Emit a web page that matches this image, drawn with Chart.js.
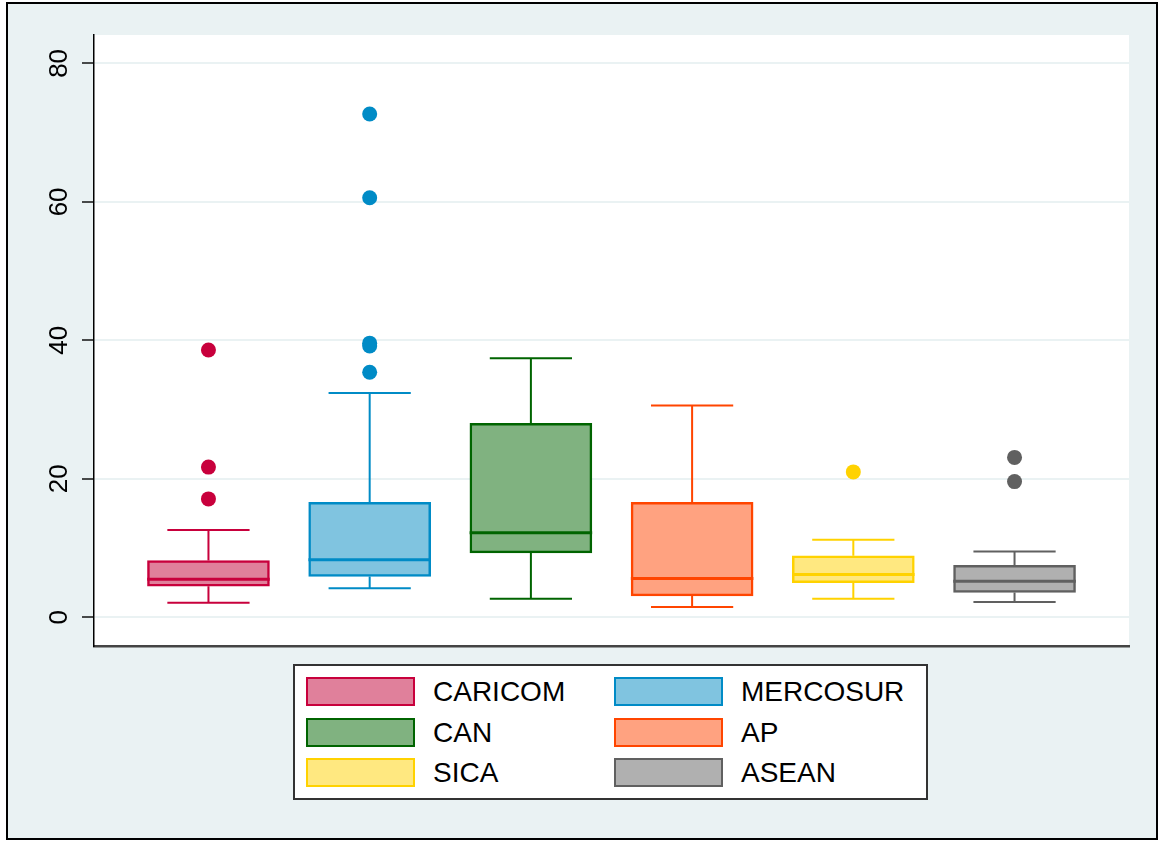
<!DOCTYPE html>
<html lang="en">
<head>
<meta charset="UTF-8">
<title>Box plot by group</title>
<script src="https://cdn.jsdelivr.net/npm/chart.js"></script>
<style>
  html, body { margin: 0; padding: 0; background: #fff; }
  #frame { position: absolute; left: 6px; top: 2px; width: 1152px; height: 838px;
           box-sizing: border-box; border: 2px solid #000; background: #eaf2f3; }
  #chart { position: absolute; left: 0; top: 0; }
  #legend { position: absolute; left: 293px; top: 664px; width: 635px; height: 136px;
            box-sizing: border-box; border: 2px solid #333; background: #fff; }
  .item { position: absolute; height: 29px; display: flex; align-items: center;
          font-family: "Liberation Sans", Arial, sans-serif; font-size: 28px; color: #000; white-space: nowrap; }
  .swatch { width: 109px; height: 29px; box-sizing: border-box; border: 2px solid; margin-right: 18px; }
</style>
</head>
<body>
<div id="frame"></div>
<canvas id="chart" width="1161" height="841"></canvas>
<div id="legend"></div>

<script>
    // groups and box statistics
    const groups = ['CARICOM', 'MERCOSUR', 'CAN', 'AP', 'SICA', 'ASEAN'];
    const lowerWhisker = [2.1, 4.2, 2.7, 1.5, 2.7, 2.2];
    const q1 = [4.5, 5.9, 9.3, 3.1, 5.0, 3.6];
    const median = [5.5, 8.3, 12.2, 5.6, 6.2, 5.2];
    const q3 = [8.2, 16.6, 28.0, 16.6, 8.9, 7.5];
    const upperWhisker = [12.6, 32.4, 37.4, 30.6, 11.2, 9.5];
    const outliers = [
        [38.6, 21.7, 17.1],
        [72.7, 60.6, 39.6, 39.2, 35.4],
        [],
        [],
        [21.0],
        [23.1, 19.6]
    ];
    const yTicks = [0, 20, 40, 60, 80];

    const lineColors = ['#c8003c', '#008bc6', '#006400', '#ff4500', '#ffd200', '#606060'];
    const fillColors = ['#e0809b', '#80c4e0', '#80b280', '#ffa280', '#ffe880', '#b0b0b0'];

    const capHalf = 0.255;
    const boxHalf = 0.38;
    const font = "'Liberation Sans', Arial, sans-serif";

    // boxes as floating bars
    const boxData = groups.map((g, i) => ({ x: i + 1, y: [q1[i], q3[i]] }));

    // whiskers + caps, one line dataset per group, gaps split the pieces
    const whiskerSets = groups.map((g, i) => {
        const c = i + 1;
        return {
            type: 'line',
            order: 2,
            data: [
                { x: c - capHalf, y: lowerWhisker[i] }, { x: c + capHalf, y: lowerWhisker[i] }, { x: c, y: null },
                { x: c, y: lowerWhisker[i] }, { x: c, y: q1[i] }, { x: c, y: null },
                { x: c, y: q3[i] }, { x: c, y: upperWhisker[i] }, { x: c, y: null },
                { x: c - capHalf, y: upperWhisker[i] }, { x: c + capHalf, y: upperWhisker[i] }
            ],
            borderColor: lineColors[i],
            borderWidth: 2,
            pointRadius: 0,
            spanGaps: false,
            fill: false
        };
    });

    const medianSets = groups.map((g, i) => ({
        type: 'line',
        order: 1,
        data: [{ x: i + 1 - boxHalf, y: median[i] }, { x: i + 1 + boxHalf, y: median[i] }],
        borderColor: lineColors[i],
        borderWidth: 3,
        pointRadius: 0,
        fill: false
    }));

    const outlierPoints = [];
    const outlierColors = [];
    outliers.forEach((vals, i) => {
        vals.forEach(v => {
            outlierPoints.push({ x: i + 1, y: v });
            outlierColors.push(lineColors[i]);
        });
    });

    const plotBackground = {
        id: 'plotBackground',
        beforeDraw(chart) {
            const { ctx, chartArea: a } = chart;
            ctx.save();
            ctx.fillStyle = '#ffffff';
            ctx.fillRect(a.left, a.top, a.right - a.left, a.bottom - a.top);
            ctx.restore();
        }
    };

    new Chart(document.getElementById('chart'), {
        type: 'bar',
        data: {
            datasets: [
                {
                    type: 'bar',
                    order: 3,
                    data: boxData,
                    backgroundColor: fillColors,
                    borderColor: lineColors,
                    borderWidth: 2.5,
                    borderSkipped: false,
                    barThickness: 122
                },
                ...whiskerSets,
                ...medianSets,
                {
                    type: 'scatter',
                    order: 0,
                    data: outlierPoints,
                    pointBackgroundColor: outlierColors,
                    pointBorderWidth: 0,
                    pointRadius: 7.5
                }
            ]
        },
        options: {
            responsive: false,
            animation: false,
            events: [],
            layout: { padding: { left: 0, top: 35, right: 32, bottom: 195 } },
            plugins: {
                legend: { display: false },
                tooltip: { enabled: false }
            },
            scales: {
                x: {
                    type: 'linear',
                    min: 0.29,
                    max: 6.71,
                    offset: false,
                    grid: { display: false, drawTicks: false },
                    ticks: { display: false },
                    border: { display: true, color: '#444', width: 2.5 },
                    afterFit(s) { s.height = 0; }
                },
                y: {
                    min: -4.14,
                    max: 84.1,
                    afterBuildTicks(s) { s.ticks = yTicks.map(v => ({ value: v })); },
                    afterFit(s) { s.width = 94; },
                    grid: {
                        color: '#eaf2f3',
                        lineWidth: 2,
                        drawTicks: true,
                        tickLength: 12,
                        tickColor: '#111',
                        tickWidth: 1.5
                    },
                    border: { display: true, color: '#000', width: 1.5 },
                    ticks: {
                        minRotation: 90,
                        maxRotation: 90,
                        crossAlign: 'center',
                        padding: 8,
                        color: '#000',
                        font: { family: font, size: 26 }
                    }
                }
            }
        },
        plugins: [plotBackground]
    });

    // legend in two columns
    const legend = document.getElementById('legend');
    groups.forEach((g, i) => {
        const item = document.createElement('div');
        item.className = 'item';
        item.style.left = (i % 2 === 0 ? 11 : 319) + 'px';
        item.style.top = [11, 52, 92][Math.floor(i / 2)] + 'px';
        const sw = document.createElement('div');
        sw.className = 'swatch';
        sw.style.background = fillColors[i];
        sw.style.borderColor = lineColors[i];
        const label = document.createElement('span');
        label.textContent = g;
        item.appendChild(sw);
        item.appendChild(label);
        legend.appendChild(item);
    });
</script>
</body>
</html>
